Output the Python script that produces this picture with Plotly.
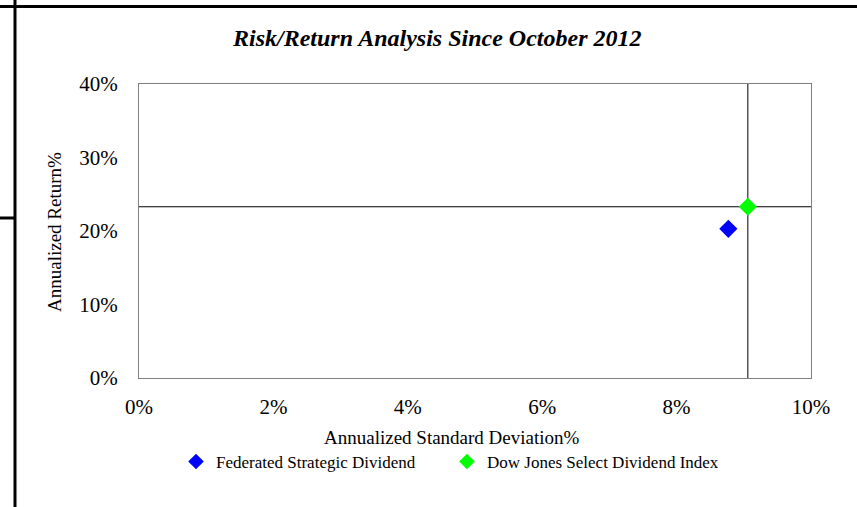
import plotly.graph_objects as go

series_names = ["Federated Strategic Dividend", "Dow Jones Select Dividend Index"]
std_dev = [8.77, 9.06]
ann_return = [20.3, 23.3]
colors = ["#0000FF", "#00FF00"]
x_ticks = [0, 2, 4, 6, 8, 10]
y_ticks = [0, 10, 20, 30, 40]

W, H = 857, 507
L, R, T, B = 139, 46, 84, 129
pw, ph = W - L - R, H - T - B

def px_x(p):
    return (p - L) / pw

def px_y(p):
    return (H - B - p) / ph

font = "Liberation Serif, Times New Roman, serif"

fig = go.Figure()
for n, xv, yv, c in zip(series_names, std_dev, ann_return, colors):
    fig.add_trace(go.Scatter(x=[xv], y=[yv], mode="markers", name=n,
                             marker=dict(symbol="diamond", size=14, color=c,
                                         line=dict(width=0))))

shapes = [
    # crosshair at index point
    dict(type="line", xref="x", yref="paper", x0=std_dev[1], x1=std_dev[1], y0=0, y1=1,
         line=dict(color="black", width=1), layer="below"),
    dict(type="line", xref="paper", yref="y", x0=0, x1=1, y0=ann_return[1], y1=ann_return[1],
         line=dict(color="black", width=1), layer="below"),
    # decorative page borders
    dict(type="line", xref="paper", yref="paper", x0=px_x(0), x1=px_x(W), y0=px_y(6.5), y1=px_y(6.5),
         line=dict(color="black", width=3)),
    dict(type="line", xref="paper", yref="paper", x0=px_x(15), x1=px_x(15), y0=px_y(0), y1=px_y(H),
         line=dict(color="black", width=3)),
    dict(type="line", xref="paper", yref="paper", x0=px_x(0), x1=px_x(15), y0=px_y(218), y1=px_y(218),
         line=dict(color="black", width=3)),
]

annotations = [
    dict(text="<b><i>Risk/Return Analysis Since October 2012</i></b>", xref="paper", yref="paper",
         x=px_x(437), y=px_y(38), showarrow=False, xanchor="center", yanchor="middle",
         font=dict(family=font, size=24, color="black")),
    dict(text="Annualized Standard Deviation%", xref="paper", yref="paper",
         x=px_x(452), y=px_y(437), showarrow=False, xanchor="center", yanchor="middle",
         font=dict(family=font, size=19, color="black")),
    dict(text="Annualized Return%", xref="paper", yref="paper", textangle=-90,
         x=px_x(54), y=px_y(232), showarrow=False, xanchor="center", yanchor="middle",
         font=dict(family=font, size=19, color="black")),
]

fig.update_layout(
    width=W, height=H,
    margin=dict(l=L, r=R, t=T, b=B),
    paper_bgcolor="white", plot_bgcolor="white",
    font=dict(family=font, size=21, color="black"),
    shapes=shapes, annotations=annotations,
    showlegend=True,
    legend=dict(orientation="h", x=px_x(176), y=px_y(444), xanchor="left", yanchor="top",
                font=dict(family=font, size=17, color="black"),
                entrywidth=226, entrywidthmode="pixels", itemwidth=30,
                itemsizing="constant"),
    xaxis=dict(range=[0, 10], tickvals=x_ticks, ticktext=[f"{v}%" for v in x_ticks],
               showgrid=False, zeroline=False, showline=True, mirror=True,
               linecolor="#808080", linewidth=1, ticks="", ticklabelstandoff=10,
               fixedrange=True),
    yaxis=dict(range=[0, 40], tickvals=y_ticks, ticktext=[f"{v}%" for v in y_ticks],
               showgrid=False, zeroline=False, showline=True, mirror=True,
               linecolor="#808080", linewidth=1, ticks="", ticklabelstandoff=16,
               fixedrange=True),
)

fig.write_html("out.html", config={"displayModeBar": False},
               post_script="document.body.style.margin='0';")
